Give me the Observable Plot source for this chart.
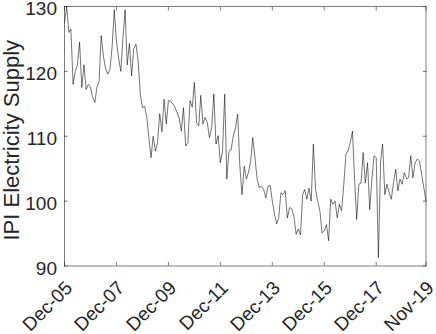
<!DOCTYPE html>
<html><head><meta charset="utf-8">
<script src="https://cdn.jsdelivr.net/npm/d3@7"></script>
<script src="https://cdn.jsdelivr.net/npm/@observablehq/plot@0.6"></script>
<style>html,body{margin:0;padding:0;background:#fff} svg{display:block}</style>
</head><body><div id="chart"></div>
<script>
const startMonth = "2005-12";
const values = [
  127.5, 130, 126, 126.5, 118, 120, 121, 124.5, 117.5, 121, 117.2, 118,
  117.6, 116, 115.2, 117.5, 118.4, 125.5, 122.4, 120.4, 119.6, 120.3, 123.7, 129.5,
  124.7, 122, 120, 125, 129.5, 121, 124.3, 119.3, 123.5, 124.2, 121.7, 116.5,
  114.4, 114.6, 112.9, 109.8, 106.7, 110, 107.7, 109, 113.5, 110.7, 115.7, 111.9,
  115.5, 115.3, 115, 114.5, 113.7, 112.8, 110.8, 114.4, 108.5, 109, 115.5, 114.5,
  118.3, 112.1, 111.6, 116.3, 111.9, 112.9, 112.1, 109.8, 111.3, 116.5, 108.8, 110.1,
  105.9, 107.7, 116.5, 103.4, 107.7, 107.9, 110.1, 111.3, 113.4, 105.3, 101, 105.4,
  103.4, 104.5, 106.2, 109.8, 106.7, 103.4, 102.1, 102.3, 101.8, 100.5, 102.3, 102.4,
  100, 98, 96.5, 97.4, 101.3, 101, 101.6, 97.4, 99, 98.8, 97.7, 94.9,
  95.7, 94.8, 101, 101.8, 100.3, 102, 100, 108.8, 101.8, 100, 98.5, 95.1,
  95.4, 96.4, 93.9, 100.3, 99.5, 100, 97.4, 99.5, 98.5, 102.6, 107.2, 107.8,
  109, 110.8, 103.1, 97.2, 102.6, 102.8, 107.5, 102.8, 105.9, 98.7, 103.4, 107,
  106.7, 91.3, 106.2, 108.8, 101, 102.6, 101.3, 100.3, 102.8, 104.9, 101.6, 103.4,
  102.6, 104.4, 103.4, 103.6, 107, 103.6, 105.9, 106.5, 106.2, 104.1, 102.1, 100
];
const tickLabels = ["Dec-05","Dec-07","Dec-09","Dec-11","Dec-13","Dec-15","Dec-17","Nov-19"];
const yTicks = [90, 100, 110, 120, 130];
const yLabel = "IPI Electricity Supply";

const parseTick = d3.utcParse("%b-%y");
const tickDates = tickLabels.map(parseTick);
const xTickRows = tickDates.map((d, i) => ({date: d, label: tickLabels[i]}));
const start = d3.utcParse("%Y-%m")(startMonth);
const data = values.map((v, i) => ({date: d3.utcMonth.offset(start, i), value: v}));

const font = "'Liberation Sans', Arial, Helvetica, sans-serif";
const axisColor = "#262626";
const tickFont = 19;

const chart = Plot.plot({
  width: 436, height: 334,
  marginLeft: 64, marginRight: 10.5, marginTop: 6, marginBottom: 68.5,
  style: {fontFamily: font, color: axisColor, background: "#fff", overflow: "visible"},
  x: {type: "utc", domain: [data[0].date, data[data.length - 1].date]},
  y: {domain: [90, 130]},
  marks: [
    Plot.lineY(data, {x: "date", y: "value", stroke: "#000", strokeWidth: 0.55}),
    Plot.frame({stroke: axisColor, strokeWidth: 0.6}),
    Plot.text(xTickRows, {x: "date", text: "label", frameAnchor: "bottom", rotate: -45,
      textAnchor: "end", lineAnchor: "bottom", dx: 9, dy: 23, fontSize: tickFont, fill: axisColor}),
    Plot.axisX({anchor: "bottom", ticks: tickDates, tickSize: -3.6, tickFormat: () => "", label: null, stroke: axisColor, strokeWidth: 0.6}),
    Plot.axisX({anchor: "top", ticks: tickDates, tickSize: -3.6, tickFormat: () => "", label: null, stroke: axisColor, strokeWidth: 0.6}),
    Plot.axisY({anchor: "left", ticks: yTicks, tickSize: 0, tickPadding: 7.5, fontSize: tickFont, label: null, dy: 2.5}),
    Plot.axisY({anchor: "left", ticks: yTicks, tickSize: -3.6, tickFormat: () => "", label: null, stroke: axisColor, strokeWidth: 0.6}),
    Plot.axisY({anchor: "right", ticks: yTicks, tickSize: -3.6, tickFormat: () => "", label: null, stroke: axisColor, strokeWidth: 0.6}),
    Plot.text([yLabel], {frameAnchor: "left", text: d => d, rotate: -90, dx: -53, dy: 4,
      fontSize: 22, fill: axisColor, textAnchor: "middle", lineAnchor: "middle"})
  ]
});
document.getElementById("chart").appendChild(chart);
</script>
</body></html>
